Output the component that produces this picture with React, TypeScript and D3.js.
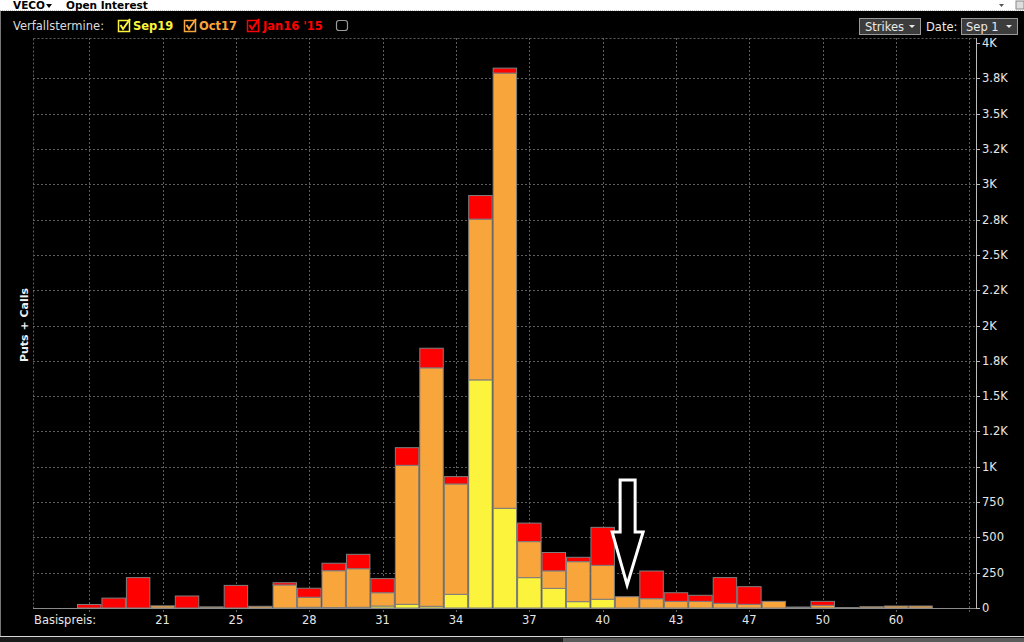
import React from "react";
import * as d3 from "d3";

// ---- data ----
const strikes = ["18","19","20","21","22","23","25","26","27","28","29","30","31","32","33","34","35","36","37","38","39","40","41","42","43","44","45","47","48","49","50","52.5","55","60","65"];
const sep19 = [0,0,0,0,0,0,0,0,0,5,3,5,14,26,12,97,1615,706,215,139,45,62,0,0,0,0,0,0,0,0,0,0,0,0,0];
const oct17 = [0,0,0,15,0,8,0,12,163,71,261,273,94,984,1688,781,1138,3081,255,124,283,240,80,66,47,47,33,26,47,7,19,3,9,14,14];
const jan16 = [25,70,215,0,85,0,160,0,16,64,53,102,100,125,139,52,167,35,131,130,31,269,0,196,61,43,182,125,0,0,28,0,0,0,0];
const seriesNames = ["Sep19", "Oct17", "Jan16 '15"];
const seriesColors = ["#fcf43c", "#f8a53c", "#ff0000"];
const yTickValues = [0,250,500,750,1000,1250,1500,1750,2000,2250,2500,2750,3000,3250,3500,3750,4000];
const yTickLabels = ["0","250","500","750","1K","1.2K","1.5K","1.8K","2K","2.2K","2.5K","2.8K","3K","3.2K","3.5K","3.8K","4K"];
const labeledStrikes = ["21","25","28","31","34","37","40","43","47","50","60"];
const arrowStrike = "41";

const W = 1024, H = 642;
const plotL = 33, plotR = 976, plotT = 38, plotB = 608;

export default function App() {
  const x = d3.scaleBand<string>().domain(strikes).range([77, 932.75]).padding(0);
  const y = d3.scaleLinear().domain([0, 4000]).range([plotB, 43]);
  const step = x.step();
  const x0 = x.range()[0];

  const rows = strikes.map((s, i) => ({ strike: s, Sep19: sep19[i], Oct17: oct17[i], "Jan16 '15": jan16[i] }));
  const stack = d3.stack<any>().keys(seriesNames)(rows);

  const gridXs: number[] = [];
  for (let i = 0; x0 + step * (i + 0.5) < plotR; i += 3) gridXs.push(x0 + step * (i + 0.5));

  const font = "'DejaVu Sans', Verdana, sans-serif";
  const ax = (x(arrowStrike) as number) + step / 2;

  const arrowPath = `M${ax - 7},480 L${ax + 8},480 L${ax + 8},532 L${ax + 16},532 L${ax},585 L${ax - 15},532 L${ax - 7},532 Z`;

  const legendItems = [
    { name: seriesNames[0], color: seriesColors[0], bx: 118, tx: 133 },
    { name: seriesNames[1], color: seriesColors[1], bx: 184, tx: 199 },
    { name: seriesNames[2], color: seriesColors[2], bx: 247, tx: 263 },
  ];

  return (
    <div style={{ position: "fixed", left: 0, top: 0, width: W, height: H }}>
      <svg width={W} height={H} style={{ display: "block", background: "#000" }} fontFamily={font}>
        {/* header strip */}
        <rect x={0} y={0} width={W} height={11} fill="#ffffff" />
        <line x1={0} x2={W} y1={10.5} y2={10.5} stroke="#bdbdbd" strokeDasharray="1,1" />
        <text x={13} y={9} fontSize={10.5} fontWeight="bold" fill="#000">VECO</text>
        <path d="M46,4 L52,4 L49,8 Z" fill="#000" />
        <text x={66} y={9} fontSize={10.5} fontWeight="bold" fill="#000">Open Interest</text>
        <path d="M999,4 L1004,4 L1001.5,7 Z" fill="#555" />
        <rect x={1016} y={1} width={8} height={8} fill="#ddd" stroke="#888" />

        {/* legend */}
        <text x={13} y={30} fontSize={11.5} fill="#dcdcdc">Verfallstermine:</text>
        {legendItems.map((l) => (
          <g key={l.name}>
            <rect x={l.bx + 0.5} y={20.5} width={11} height={11} fill="none" stroke={l.color} strokeWidth={1.5} />
            <path d={`M${l.bx + 2.5},25 L${l.bx + 5},29 L${l.bx + 12},19`} fill="none" stroke={l.color} strokeWidth={2} />
            <text x={l.tx} y={30} fontSize={11.5} fontWeight="bold" fill={l.color}>{l.name}</text>
          </g>
        ))}
        <rect x={336.5} y={20.5} width={11} height={10} rx={2.5} fill="none" stroke="#9a9a9a" strokeWidth={1.2} />

        {/* buttons */}
        <rect x={859.5} y={18.5} width={61} height={16} fill="#3c3c3c" stroke="#9a9a9a" />
        <text x={865} y={30.5} fontSize={11.5} fill="#eaeaea">Strikes</text>
        <path d="M909,25 L915,25 L912,28 Z" fill="#eaeaea" />
        <text x={926} y={30.5} fontSize={11.5} fill="#eaeaea">Date:</text>
        <rect x={961.5} y={18.5} width={56} height={16} fill="#3c3c3c" stroke="#9a9a9a" />
        <text x={966} y={30.5} fontSize={11.5} fill="#eaeaea">Sep 1</text>
        <path d="M1006,25 L1012,25 L1009,28 Z" fill="#eaeaea" />

        {/* grid */}
        <rect x={plotL + 0.5} y={plotT + 0.5} width={plotR - plotL} height={plotB - plotT} fill="none" stroke="#5e5e5e" strokeDasharray="2,2" />
        {yTickValues.slice(1, -1).map((v) => (
          <line key={"h" + v} x1={plotL} x2={plotR} y1={Math.round(y(v)) + 0.5} y2={Math.round(y(v)) + 0.5} stroke="#5e5e5e" strokeDasharray="2,2" />
        ))}
        {gridXs.map((gx, i) => (
          <line key={"v" + i} x1={Math.round(gx) + 0.5} x2={Math.round(gx) + 0.5} y1={plotT} y2={plotB + 4} stroke="#5e5e5e" strokeDasharray="2,2" />
        ))}

        {/* bars */}
        {stack.map((layer, si) => (
          <g key={layer.key}>
            {layer.map((d, i) => {
              const h = y(d[0]) - y(d[1]);
              if (h <= 0) return null;
              const bx = x(strikes[i]) as number;
              return (
                <rect key={i} x={bx + 0.5} y={y(d[1])} width={step - 1} height={h}
                  fill={seriesColors[si]} stroke="#7f7f7f" strokeWidth={1} />
              );
            })}
          </g>
        ))}

        {/* baseline */}
        <line x1={plotL} x2={plotR} y1={plotB + 0.5} y2={plotB + 0.5} stroke="#8a8a8a" />

        {/* right axis */}
        <line x1={plotR + 0.5} x2={plotR + 0.5} y1={plotT} y2={plotB + 1} stroke="#bcbcbc" />
        {yTickValues.map((v, i) => (
          <g key={"t" + v}>
            <line x1={plotR} x2={plotR + 4} y1={Math.round(y(v)) + 0.5} y2={Math.round(y(v)) + 0.5} stroke="#bcbcbc" />
            <text x={982} y={y(v) + 4} fontSize={11.5} fill="#e6e6e6">{yTickLabels[i]}</text>
          </g>
        ))}

        {/* y label */}
        <text transform="translate(28,325) rotate(-90)" textAnchor="middle" fontSize={11} fontWeight="bold" fill="#f0f0f0">Puts + Calls</text>

        {/* x labels */}
        <text x={34} y={624} fontSize={11.5} fill="#e6e6e6">Basispreis:</text>
        {labeledStrikes.map((s) => (
          <text key={s} x={(x(s) as number) + step / 2} y={624} fontSize={11.5} textAnchor="middle" fill="#e6e6e6">{s}</text>
        ))}

        {/* arrow annotation */}
        <path d={arrowPath} fill="#000" stroke="#ffffff" strokeWidth={3} strokeLinejoin="miter" />

        {/* bottom strip */}
        <line x1={0} x2={W} y1={636.5} y2={636.5} stroke="#d8d8d8" />
        <rect x={0} y={637} width={W} height={5} fill="#1a1a1a" />
        <rect x={563} y={638} width={461} height={4} fill="#5a5a5a" />
        <line x1={0.5} x2={0.5} y1={11} y2={636} stroke="#777" />
      </svg>
    </div>
  );
}
